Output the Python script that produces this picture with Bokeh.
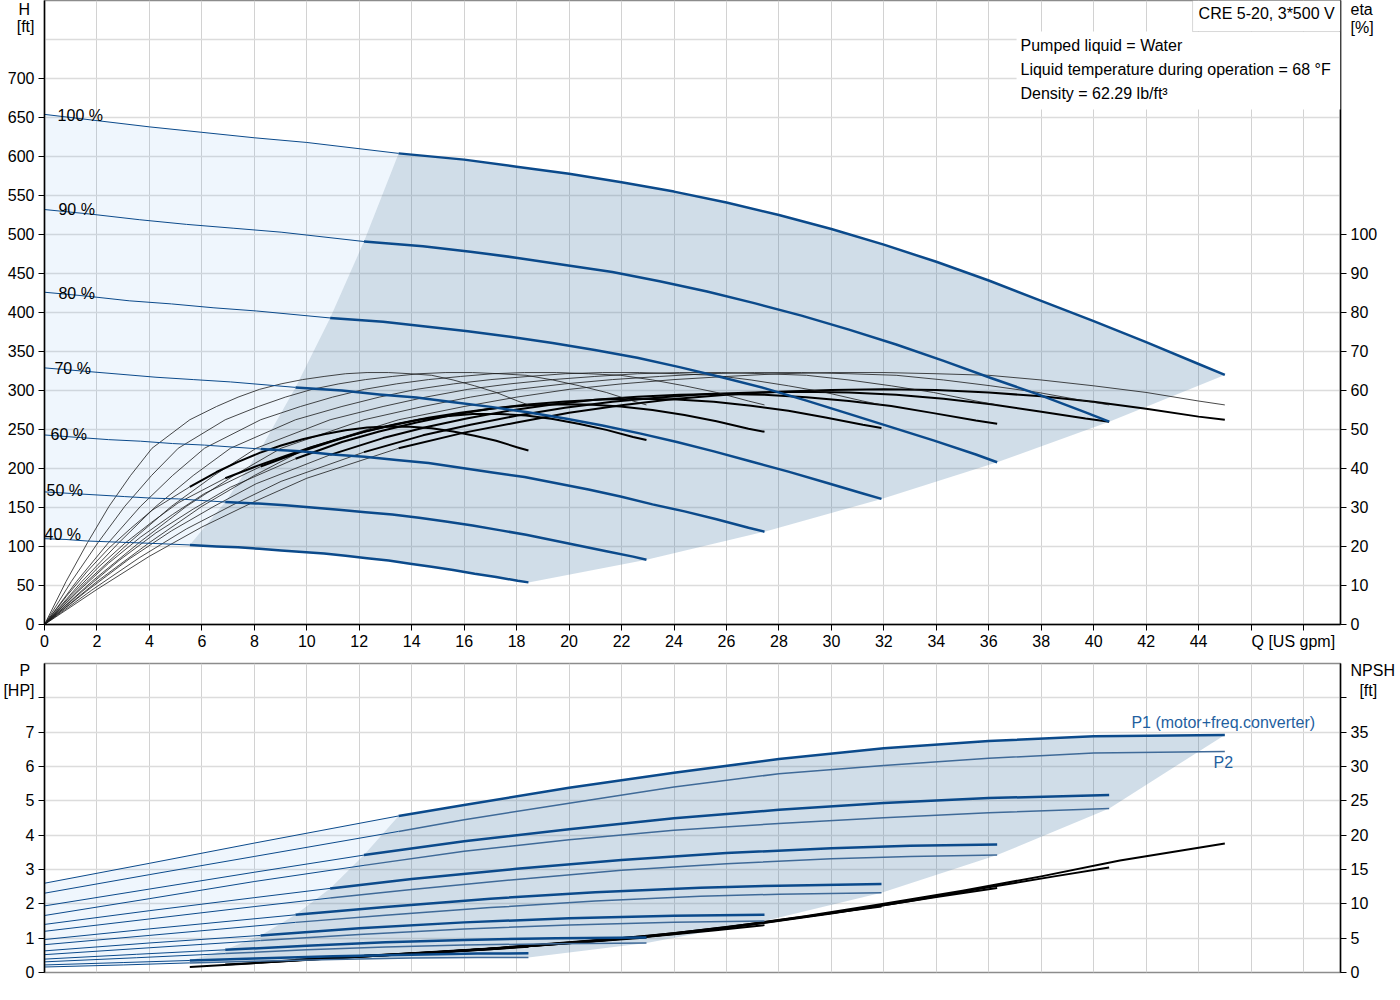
from bokeh.plotting import figure
from bokeh.models import Range1d, LinearAxis, FixedTicker, Label, BoxAnnotation
from bokeh.layouts import column
from bokeh.embed import file_html
from bokeh.resources import INLINE

FONT = "Liberation Sans"
BLUE = "#0b4a8b"
P2BLUE = "#3f6a98"
TXTBLUE = "#1f5f9f"
NB = "\u00a0"

# ---------------- data ----------------
speed_labels = ["100 %", "90 %", "80 %", "70 %", "60 %", "50 %", "40 %"]

# flow points of each speed curve [US gpm]
q_100 = [0, 2, 4, 6, 8, 10, 13.5, 16, 18, 20, 22, 24, 26, 28, 30, 32, 34, 36, 38, 40, 42, 44, 45]
q_90 = [0, 1.80, 3.61, 5.41, 7.22, 9.02, 12.18, 14.43, 16.24, 18.04, 19.84, 21.65, 23.45, 25.26,
        27.06, 28.86, 30.67, 32.47, 34.28, 36.08, 37.88, 39.69, 40.59]
q_80 = [0, 1.61, 3.23, 4.84, 6.46, 8.07, 10.89, 12.91, 14.53, 16.14, 17.75, 19.37, 20.98, 22.60,
        24.21, 25.82, 27.44, 29.05, 30.67, 32.28, 33.89, 35.51, 36.32]
q_70 = [0, 1.42, 2.84, 4.25, 5.67, 7.09, 9.57, 11.34, 12.76, 14.18, 15.60, 17.02, 18.43, 19.85,
        21.27, 22.69, 24.11, 25.52, 26.94, 28.36, 29.78, 31.20, 31.91]
q_60 = [0, 1.22, 2.44, 3.66, 4.88, 6.10, 8.24, 9.76, 10.98, 12.20, 13.42, 14.64, 15.86, 17.08,
        18.30, 19.52, 20.74, 21.96, 23.18, 24.40, 25.62, 26.84, 27.45]
q_50 = [0, 1.02, 2.04, 3.06, 4.08, 5.10, 6.89, 8.16, 9.18, 10.20, 11.22, 12.24, 13.26, 14.28,
        15.30, 16.32, 17.34, 18.36, 19.38, 20.40, 21.42, 22.44, 22.95]
q_40 = [0, 0.82, 1.64, 2.46, 3.28, 4.10, 5.54, 6.56, 7.38, 8.20, 9.02, 9.84, 10.66, 11.48,
        12.30, 13.12, 13.94, 14.76, 15.58, 16.40, 17.22, 18.04, 18.45]

# head [ft]
h_100 = [654, 646, 638, 631, 624, 618, 604, 596, 587, 578, 567, 555, 541, 525, 507, 487, 465, 441, 415, 389, 362, 334, 320]
h_90 = [532, 526, 519, 513, 508, 503, 491, 485, 478, 470, 461, 452, 440, 427, 412, 396, 378, 359, 338, 316, 295, 272, 260]
h_80 = [426, 421, 415, 411, 406, 402, 393, 388, 382, 376, 369, 361, 352, 342, 330, 317, 303, 287, 270, 253, 236, 218, 208]
h_70 = [329, 325, 321, 317, 314, 311, 304, 300, 295, 291, 285, 279, 272, 264, 255, 245, 234, 222, 209, 196, 182, 168, 161]
h_60 = [243, 240, 237, 235, 232, 230, 225, 222, 218, 215, 211, 207, 201, 195, 189, 181, 173, 164, 154, 145, 135, 124, 119]
h_50 = [170, 168, 166, 164, 162, 161, 157, 155, 153, 150, 147, 144, 141, 137, 132, 127, 121, 115, 108, 101, 94, 87, 83]
h_40 = [110, 109, 107, 106, 105, 104, 102, 100, 99, 97, 95, 93, 91, 88, 85, 82, 78, 74, 70, 65, 61, 56, 54]

# pump efficiency [%] (same at every speed, along each speed's flow points)
eta_pump = [0, 11.0, 21.0, 30.3, 38.2, 45.2, 52.5, 55.9, 58.3, 60.3, 61.7, 62.8, 63.6, 64.3, 64.6, 64.6,
            64.3, 63.9, 62.7, 61.2, 59.5, 57.3, 56.3]

# total efficiency (pump + motor + converter) [%]
etat_100 = [0, 9.0, 17.5, 25.0, 31.5, 37.5, 45.2, 49.2, 51.8, 54.3, 56.2, 57.8, 58.9, 59.7, 60.1, 60.3,
            60.1, 59.5, 58.5, 57.1, 55.3, 53.3, 52.5]
etat_90 = [0, 8.8, 17.1, 24.5, 30.8, 36.7, 44.2, 48.5, 51.2, 53.6, 55.6, 57.1, 58.2, 59.1, 59.5, 59.7,
           59.5, 58.9, 57.9, 56.5, 54.7, 52.8, 52.0]
etat_80 = [0, 8.6, 16.8, 24.0, 30.3, 36.1, 43.5, 47.8, 50.6, 52.9, 54.9, 56.4, 57.6, 58.4, 58.9, 59.1,
           58.9, 58.3, 57.3, 56.0, 54.2, 52.3, 51.5]
etat_70 = [0, 8.4, 16.4, 23.5, 29.6, 35.2, 42.5, 46.8, 49.5, 51.8, 53.8, 55.3, 56.4, 57.2, 57.7, 57.9,
           57.7, 57.1, 56.1, 54.8, 53.1, 51.2, 50.4]
etat_60 = [0, 8.1, 15.7, 22.4, 28.2, 33.6, 40.5, 44.3, 47.0, 49.5, 51.4, 53.0, 54.3, 55.4, 56.1, 56.5,
           56.4, 55.9, 55.0, 53.7, 52.1, 50.2, 49.4]
etat_50 = [0, 7.5, 14.6, 20.8, 26.2, 31.2, 37.5, 40.8, 43.2, 45.5, 47.6, 49.5, 51.1, 52.5, 53.4, 54.0,
           54.0, 53.6, 52.7, 51.4, 49.9, 48.1, 47.3]
etat_40 = [0, 7.1, 13.7, 19.6, 24.6, 29.3, 35.3, 39.1, 41.7, 44.0, 45.9, 47.5, 48.8, 49.8, 50.5, 50.8,
           50.7, 50.3, 49.5, 48.4, 47.1, 45.4, 44.6]

# start of the operating range of each speed [US gpm]
q_start = [13.5, 12.18, 10.89, 9.57, 8.24, 6.89, 5.54]

# power curves [HP]
qp_100 = [0, 4, 8, 13.5, 16, 20, 24, 28, 32, 36, 40, 45]
p1_100 = [2.60, 3.18, 3.77, 4.56, 4.88, 5.38, 5.82, 6.22, 6.53, 6.74, 6.88, 6.92]
p2_100 = [2.31, 2.85, 3.38, 4.11, 4.45, 4.93, 5.40, 5.79, 6.03, 6.24, 6.39, 6.44]
qp_90 = [0, 4, 8, 12.18, 16, 20, 24, 28, 32, 36, 40.59]
p1_90 = [1.94, 2.43, 2.92, 3.42, 3.82, 4.17, 4.49, 4.74, 4.94, 5.08, 5.17]
p2_90 = [1.66, 2.15, 2.65, 3.12, 3.53, 3.87, 4.14, 4.34, 4.51, 4.65, 4.78]
qp_80 = [0, 4, 8, 10.89, 14, 18, 22, 26, 30, 33, 36.32]
p1_80 = [1.40, 1.80, 2.18, 2.45, 2.72, 3.02, 3.28, 3.48, 3.62, 3.69, 3.73]
p2_80 = [1.20, 1.56, 1.92, 2.17, 2.42, 2.71, 2.98, 3.17, 3.31, 3.38, 3.42]
qp_70 = [0, 4, 9.57, 13, 17, 21, 25, 28, 31.91]
p1_70 = [0.96, 1.27, 1.68, 1.91, 2.15, 2.34, 2.47, 2.53, 2.58]
p2_70 = [0.81, 1.08, 1.46, 1.67, 1.89, 2.08, 2.22, 2.28, 2.32]
qp_60 = [0, 4, 8.24, 12, 16, 20, 24, 27.45]
p1_60 = [0.63, 0.86, 1.08, 1.29, 1.46, 1.58, 1.65, 1.68]
p2_60 = [0.52, 0.72, 0.93, 1.11, 1.27, 1.38, 1.46, 1.50]
qp_50 = [0, 3.5, 6.89, 10, 13, 16, 19.5, 22.95]
p1_50 = [0.39, 0.53, 0.66, 0.78, 0.88, 0.95, 1.00, 1.02]
p2_50 = [0.31, 0.43, 0.55, 0.66, 0.74, 0.80, 0.84, 0.86]
qp_40 = [0, 3, 5.54, 8, 11, 14, 16.5, 18.45]
p1_40 = [0.22, 0.29, 0.35, 0.41, 0.47, 0.52, 0.55, 0.56]
p2_40 = [0.16, 0.22, 0.28, 0.33, 0.38, 0.42, 0.44, 0.44]

# NPSH curves [ft]
qn_100 = [13.5, 17, 20, 23, 26, 29, 32, 35, 38, 41, 45]
npsh_100 = [2.7, 3.5, 4.4, 5.3, 6.6, 8.2, 10.0, 11.9, 14.0, 16.3, 18.8]
qn_90 = [12.18, 15, 18, 21, 24, 27, 30, 33, 36, 38.5, 40.59]
npsh_90 = [2.45, 3.0, 3.7, 4.6, 5.6, 7.0, 8.6, 10.4, 12.4, 14.0, 15.3]
qn_80 = [10.89, 14, 17, 20, 23, 26, 29, 32, 34, 36.32]
npsh_80 = [2.2, 2.75, 3.45, 4.35, 5.25, 6.5, 8.1, 9.8, 11.0, 12.3]
qn_70 = [9.57, 12, 15, 18, 21, 24, 27, 29.5, 31.91]
npsh_70 = [1.85, 2.35, 2.95, 3.75, 4.65, 5.7, 7.1, 8.4, 9.6]
qn_60 = [8.24, 11, 14, 17, 20, 23, 25.5, 27.45]
npsh_60 = [1.5, 2.1, 2.7, 3.4, 4.25, 5.2, 6.1, 6.9]
qn_50 = [6.89, 9, 12, 15, 18, 20.5, 22.95]
npsh_50 = [1.15, 1.6, 2.3, 2.95, 3.7, 4.4, 5.1]
qn_40 = [5.54, 7.5, 10, 12.5, 15, 17, 18.45]
npsh_40 = [0.8, 1.25, 1.85, 2.4, 2.95, 3.4, 3.75]

# ticks
x_ticks = list(range(0, 50, 2))
h_ticks = list(range(0, 800, 50))
eta_ticks = list(range(0, 110, 10))
p_ticks = list(range(0, 9))
npsh_ticks = list(range(0, 45, 5))

Q_LIST = [q_100, q_90, q_80, q_70, q_60, q_50, q_40]
H_LIST = [h_100, h_90, h_80, h_70, h_60, h_50, h_40]
ETAT_LIST = [etat_100, etat_90, etat_80, etat_70, etat_60, etat_50, etat_40]
QP_LIST = [qp_100, qp_90, qp_80, qp_70, qp_60, qp_50, qp_40]
P1_LIST = [p1_100, p1_90, p1_80, p1_70, p1_60, p1_50, p1_40]
P2_LIST = [p2_100, p2_90, p2_80, p2_70, p2_60, p2_50, p2_40]
QN_LIST = [qn_100, qn_90, qn_80, qn_70, qn_60, qn_50, qn_40]
NPSH_LIST = [npsh_100, npsh_90, npsh_80, npsh_70, npsh_60, npsh_50, npsh_40]
S = 6  # index of the start of the operating range in the speed curves

# speed label positions (layout)
lab_q = [0.5, 0.53, 0.53, 0.38, 0.23, 0.08, 0.0]
lab_h = [653, 532, 425, 328, 244, 172, 116]


def part(q, v, qs, thick):
    pts = [(a, b) for a, b in zip(q, v) if ((a >= qs - 1e-6) if thick else (a <= qs + 1e-6))]
    return [a for a, _ in pts], [b for _, b in pts]


def at(q, v, qs):
    for a, b in zip(q, v):
        if abs(a - qs) < 1e-6:
            return b
    return v[0]


def style_axis(ax, ticks, overrides=None, standoff=4):
    ax.ticker = FixedTicker(ticks=ticks)
    ax.axis_line_color = "black"
    ax.axis_line_width = 1.5
    ax.major_tick_line_color = "black"
    ax.major_tick_out = 6
    ax.major_tick_in = 0
    ax.minor_tick_line_color = None
    ax.major_label_text_font = FONT
    ax.major_label_text_font_size = "16px"
    ax.major_label_text_color = "black"
    ax.major_label_standoff = standoff
    if overrides:
        ax.major_label_overrides = overrides


def tick_only(ax, ticks):
    # axis line + tick marks, no labels
    style_axis(ax, ticks, {t: "" for t in ticks}, standoff=0)


def label_axis(ax, ticks, overrides):
    # labels only (no line, no tick marks), stacked just outside the tick axis
    style_axis(ax, ticks, overrides, standoff=4)
    ax.axis_line_color = None
    ax.major_tick_line_color = None
    ax.major_tick_out = 0


def lab(p, x, y, text, align="center", color="black", baseline="middle"):
    p.add_layout(Label(x=x, y=y, text=text, text_align=align, text_baseline=baseline,
                       text_font=FONT, text_font_size="16px", text_color=color))


xr = Range1d(0, 49.41)

# ---------------- top figure ----------------
top = figure(frame_width=1296, frame_height=624, x_range=xr, y_range=Range1d(0, 800),
             output_backend="svg", toolbar_location=None,
             min_border_left=42, min_border_right=56, min_border_top=0, min_border_bottom=31)
top.extra_y_ranges = {"eta": Range1d(0, 160)}
top.outline_line_color = "#8c8c8c"
top.outline_line_width = 1.5
top.background_fill_color = "white"
top.border_fill_color = "white"
style_axis(top.xaxis[0], x_ticks, {46: NB * 19 + "Q [US gpm]", 48: ""}, standoff=2)
tick_only(top.yaxis[0], h_ticks[:-1])
h_lab = LinearAxis()
label_axis(h_lab, h_ticks[:-1] + [767, 790], {767: "[ft]", 790: "H" + NB})
top.add_layout(h_lab, "left")
eta_tick = LinearAxis(y_range_name="eta")
tick_only(eta_tick, eta_ticks)
top.add_layout(eta_tick, "right")
eta_lab = LinearAxis(y_range_name="eta")
label_axis(eta_lab, eta_ticks + [153, 158], {153: "[%]", 158: "eta"})
top.add_layout(eta_lab, "right")
top.xgrid.ticker = FixedTicker(ticks=x_ticks)
top.ygrid.ticker = FixedTicker(ticks=h_ticks)
top.xgrid.grid_line_color = "#d2d2d2"
top.ygrid.grid_line_color = "#dcdcdc"
top.ygrid.grid_line_width = 1.5

# shaded areas
dark_x = q_100[S:] + [q[-1] for q in Q_LIST[1:6]] + q_40[S:][::-1] + [q[S] for q in Q_LIST[5:0:-1]]
dark_y = h_100[S:] + [h[-1] for h in H_LIST[1:6]] + h_40[S:][::-1] + [h[S] for h in H_LIST[5:0:-1]]
light_x = q_100[:S + 1] + [q[S] for q in Q_LIST[1:]] + q_40[:S + 1][::-1]
light_y = h_100[:S + 1] + [h[S] for h in H_LIST[1:]] + h_40[:S + 1][::-1]
top.patch(light_x, light_y, fill_color="#5fa5eb", fill_alpha=0.1, line_alpha=0)
top.patch(dark_x, dark_y, fill_color="#4a7aa8", fill_alpha=0.26, line_alpha=0)

# efficiency curves
for q, et in zip(Q_LIST, ETAT_LIST):
    top.line(q, eta_pump, y_range_name="eta", color="#1a1a1a", line_width=0.8)
    top.line(q[:S + 1], et[:S + 1], y_range_name="eta", color="#1a1a1a", line_width=0.8)
    top.line(q[S:], et[S:], y_range_name="eta", color="black", line_width=2, line_join="round")

# QH curves
for q, h in zip(Q_LIST, H_LIST):
    top.line(q[:S + 1], h[:S + 1], color=BLUE, line_width=1)
    top.line(q[S:], h[S:], color=BLUE, line_width=2.5, line_join="round")

for lq, lh, t in zip(lab_q, lab_h, speed_labels):
    lab(top, lq, lh, t, align="left", baseline="alphabetic")

top.add_layout(BoxAnnotation(left=37.06, right=49.41, bottom=660.4, top=760.2,
                             fill_color="white", fill_alpha=1, line_alpha=0))
top.add_layout(BoxAnnotation(left=43.77, right=49.41, bottom=760.2, top=800,
                             fill_color="white", fill_alpha=1, line_color="#7f7f7f", line_width=1))
lab(top, 44.0, 783.2, "CRE 5-20, 3*500 V", align="left")
lab(top, 37.21, 742.3, "Pumped liquid = Water", align="left")
lab(top, 37.21, 711.5, "Liquid temperature during operation = 68 °F", align="left")
lab(top, 37.21, 680.8, "Density = 62.29 lb/ft³", align="left")

# ---------------- bottom figure ----------------
bot = figure(frame_width=1296, frame_height=309, x_range=xr, y_range=Range1d(0, 9),
             output_backend="svg", toolbar_location=None,
             min_border_left=42, min_border_right=56, min_border_top=8, min_border_bottom=14)
bot.extra_y_ranges = {"npsh": Range1d(0, 45)}
bot.outline_line_color = "#8c8c8c"
bot.outline_line_width = 1.5
bot.background_fill_color = "white"
bot.border_fill_color = "white"
bot.xaxis.visible = False
tick_only(bot.yaxis[0], p_ticks)
p_lab = LinearAxis(y_range_name="npsh")
label_axis(p_lab, npsh_ticks[:-1] + [41, 44],
           {5: "1", 10: "2", 15: "3", 20: "4", 25: "5", 30: "6", 35: "7", 41: "[HP]", 44: "P" + NB})
bot.add_layout(p_lab, "left")
n_tick = LinearAxis(y_range_name="npsh")
tick_only(n_tick, npsh_ticks)
bot.add_layout(n_tick, "right")
n_lab = LinearAxis(y_range_name="npsh")
label_axis(n_lab, npsh_ticks[:-1] + [41, 44], {41: NB * 2 + "[ft]", 44: "NPSH"})
bot.add_layout(n_lab, "right")
bot.xgrid.ticker = FixedTicker(ticks=x_ticks)
bot.ygrid.ticker = FixedTicker(ticks=p_ticks)
bot.xgrid.grid_line_color = "#d2d2d2"
bot.ygrid.grid_line_color = "#dcdcdc"
bot.ygrid.grid_line_width = 1.5

# shaded areas
top_x, top_y = part(qp_100, p1_100, q_start[0], True)
b_x, b_y = part(qp_40, p2_40, q_start[6], True)
dark_px = top_x + [q[-1] for q in QP_LIST[1:]] + b_x[::-1] + [q_start[6]] + q_start[5:0:-1]
dark_py = top_y + [p[-1] for p in P2_LIST[1:]] + b_y[::-1] + \
    [at(qp_40, p1_40, q_start[6])] + [at(q, p, qs) for q, p, qs in zip(QP_LIST[5:0:-1], P1_LIST[5:0:-1], q_start[5:0:-1])]
l_x, l_y = part(qp_100, p1_100, q_start[0], False)
lb_x, lb_y = part(qp_40, p2_40, q_start[6], False)
light_px = l_x + q_start[1:] + lb_x[::-1]
light_py = l_y + [at(q, p, qs) for q, p, qs in zip(QP_LIST[1:], P1_LIST[1:], q_start[1:])] + lb_y[::-1]
bot.patch(light_px, light_py, fill_color="#5fa5eb", fill_alpha=0.1, line_alpha=0)
bot.patch(dark_px, dark_py, fill_color="#4a7aa8", fill_alpha=0.26, line_alpha=0)

# NPSH
for qn, nv in zip(QN_LIST, NPSH_LIST):
    bot.line(qn, nv, y_range_name="npsh", color="black", line_width=2, line_join="round")

# power curves
for qp, p1, p2, qs in zip(QP_LIST, P1_LIST, P2_LIST, q_start):
    x, y = part(qp, p2, qs, False)
    bot.line(x, y, color=BLUE, line_width=1)
    x, y = part(qp, p2, qs, True)
    bot.line(x, y, color=P2BLUE, line_width=1.5, line_join="round")
    x, y = part(qp, p1, qs, False)
    bot.line(x, y, color=BLUE, line_width=1)
    x, y = part(qp, p1, qs, True)
    bot.line(x, y, color=BLUE, line_width=2.5, line_join="round")

lab(bot, 41.44, 7.28, "P1 (motor+freq.converter)", align="left", color=TXTBLUE)
lab(bot, 44.57, 6.12, "P2", align="left", color=TXTBLUE)

layout = column(top, bot)
open("out.html", "w").write(file_html(layout, INLINE))
